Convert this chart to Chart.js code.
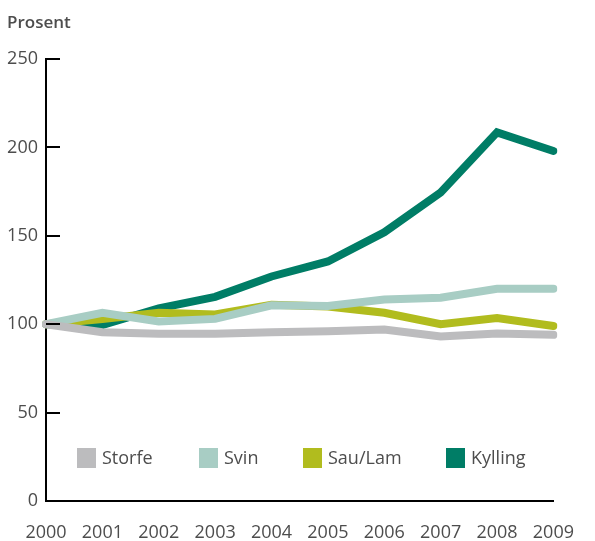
<!DOCTYPE html>
<html>
<head>
<meta charset="utf-8">
<script src="https://cdn.jsdelivr.net/npm/chart.js@4/dist/chart.umd.min.js"></script>
<style>
  html, body { margin: 0; padding: 0; background: #fff; }
  #wrap { width: 595px; height: 541px; position: relative; }
</style>
</head>
<body>
<div id="wrap"><canvas id="myChart"></canvas></div>
<script>
const years = ['2000', '2001', '2002', '2003', '2004', '2005', '2006', '2007', '2008', '2009'];
const storfe = [100, 95.4, 94.6, 94.6, 95.4, 96, 97, 93, 94.7, 94];
const svin = [100, 106.5, 101.5, 103, 110.7, 110.3, 114, 115, 120, 120];
const sauLam = [100, 103, 106.5, 105.5, 111, 110, 106.5, 100, 103.5, 99];
const kylling = [100, 99.5, 109, 115.5, 127, 135.5, 152, 174.5, 208.5, 198];
const yTicks = [0, 50, 100, 150, 200, 250];

const textColor = '#4d4d4d';
const fontFamily = "'Open Sans', 'DejaVu Sans', sans-serif";

// title, inward tick stubs and legend inside the plot
const extras = {
    id: 'extras',
    afterDraw(chart) {
        const ctx = chart.ctx;
        const area = chart.chartArea;
        const y = chart.scales.y;
        ctx.save();
        ctx.fillStyle = textColor;
        ctx.font = "600 17px " + fontFamily;
        ctx.textBaseline = 'alphabetic';
        ctx.textAlign = 'left';
        ctx.fillText('Prosent', 7, 28);

        ctx.strokeStyle = '#000';
        ctx.lineWidth = 2;
        yTicks.forEach(v => {
            if (v === 0) return;
            const py = Math.round(y.getPixelForValue(v));
            ctx.beginPath();
            ctx.moveTo(area.left, py);
            ctx.lineTo(area.left + 14, py);
            ctx.stroke();
        });

        const boxX = [31, 153, 257, 400];
        ctx.font = "18px " + fontFamily;
        ctx.textBaseline = 'middle';
        chart.data.datasets.forEach((ds, i) => {
            const bx = area.left + boxX[i];
            const by = area.bottom - 53;
            ctx.fillStyle = ds.borderColor;
            ctx.fillRect(bx, by, 19, 20);
            ctx.fillStyle = textColor;
            ctx.fillText(ds.label, bx + 25, by + 11);
        });
        ctx.restore();
    }
};

const ctx = document.getElementById('myChart').getContext('2d');
const myChart = new Chart(ctx, {
    type: 'line',
    data: {
        labels: years,
        datasets: [
            { label: 'Storfe', data: storfe, borderColor: '#bcbcbe' },
            { label: 'Svin', data: svin, borderColor: '#a8cdc4' },
            { label: 'Sau/Lam', data: sauLam, borderColor: '#b1bc1e' },
            { label: 'Kylling', data: kylling, borderColor: '#007d66' }
        ]
    },
    options: {
        responsive: true,
        maintainAspectRatio: false,
        animation: false,
        datasets: {
            line: {
                borderWidth: 8,
                borderCapStyle: 'round',
                borderJoinStyle: 'miter',
                pointRadius: 0,
                tension: 0,
                fill: false
            }
        },
        layout: { padding: { top: 59, right: 18, left: 0, bottom: 0 } },
        plugins: {
            legend: { display: false },
            tooltip: { enabled: false }
        },
        scales: {
            x: {
                offset: false,
                grid: { display: false, drawTicks: false },
                border: { display: true, color: '#000', width: 2 },
                ticks: {
                    color: textColor,
                    font: { family: fontFamily, size: 18 },
                    padding: 21,
                    maxRotation: 0,
                    autoSkip: false
                },
                afterFit(scale) { scale.height = 40; }
            },
            y: {
                min: 0,
                max: 250,
                grid: { display: false, drawTicks: false },
                border: { display: true, color: '#000', width: 2 },
                ticks: {
                    stepSize: 50,
                    color: textColor,
                    font: { family: fontFamily, size: 18 },
                    padding: 8
                },
                afterFit(scale) { scale.width = 46; }
            }
        }
    },
    plugins: [extras]
});
</script>
</body>
</html>
